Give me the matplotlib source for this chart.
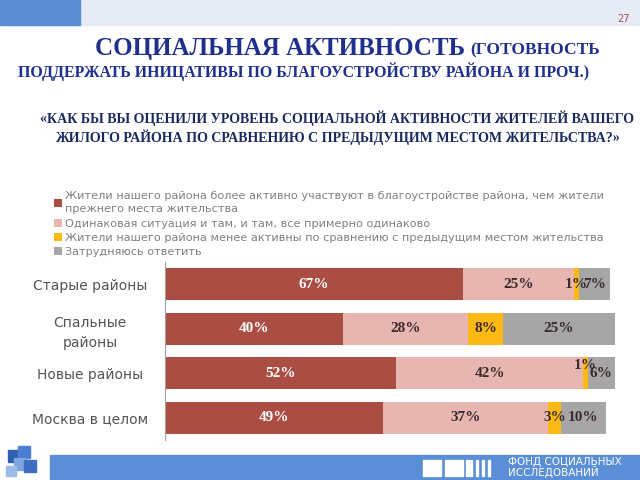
import matplotlib
matplotlib.use("Agg")
import matplotlib.pyplot as plt
from matplotlib.patches import Rectangle
import numpy as np

categories = ["Старые районы", "Спальные\nрайоны", "Новые районы", "Москва в целом"]
series_names = [
    "Жители нашего района более активно участвуют в благоустройстве района, чем жители\nпрежнего места жительства",
    "Одинаковая ситуация и там, и там, все примерно одинаково",
    "Жители нашего района менее активны по сравнению с предыдущим местом жительства",
    "Затрудняюсь ответить",
]
more_active = [67, 40, 52, 49]
same = [25, 28, 42, 37]
less_active = [1, 8, 1, 3]
hard_to_say = [7, 25, 6, 10]

colors = ["#AA4E43", "#E7B6B1", "#FDB913", "#A6A6A6"]
label_colors = ["white", "#3a2a2a", "#3a2a2a", "#3a2a2a"]

W, H = 640, 480
fig = plt.figure(figsize=(6.4, 4.8), dpi=100)

def px(x, y):
    return x / W, 1 - y / H

# header band
fig.patches.append(Rectangle((0, 1 - 25 / H), 1, 25 / H, transform=fig.transFigure,
                             color="#E6EBF6", zorder=0))
fig.patches.append(Rectangle((0, 1 - 25 / H), 80 / W, 25 / H, transform=fig.transFigure,
                             color="#5B8DD4", zorder=1))
fig.text(*px(623, 19), "27", color="#A05048", fontsize=7, ha="center", va="center")

# footer band
fig.patches.append(Rectangle((50 / W, 0), 1 - 50 / W, 25 / H, transform=fig.transFigure,
                             color="#5A8ED6", zorder=0))
for (x0, y0, s, c) in [(8, 450, 12, "#2F5FB0"), (18, 446, 12, "#4A7ED0"),
                       (14, 458, 12, "#7FA6E0"), (24, 460, 12, "#3E6CC0"),
                       (6, 466, 10, "#9DBBE8")]:
    fig.patches.append(Rectangle((x0 / W, 1 - (y0 + s) / H), s / W, s / H,
                                 transform=fig.transFigure, color=c, zorder=1))
for (x0, w) in [(423, 18), (445, 18), (466, 6), (476, 2), (482, 2), (488, 2)]:
    fig.patches.append(Rectangle((x0 / W, 1 - 476 / H), w / W, 16 / H,
                                 transform=fig.transFigure, color="white", zorder=1))
fig.text(*px(508, 462), "ФОНД СОЦИАЛЬНЫХ", color="white", fontsize=7.5,
         ha="left", va="center", family="DejaVu Sans")
fig.text(*px(508, 472), "ИССЛЕДОВАНИЙ", color="white", fontsize=7.5,
         ha="left", va="center", family="DejaVu Sans")

# titles
navy = "#1F2F8C"
fig.text(*px(95, 48), "СОЦИАЛЬНАЯ АКТИВНОСТЬ", color=navy, fontsize=18,
         fontweight="bold", family="Liberation Serif", ha="left", va="center")
fig.text(*px(470, 50), "(ГОТОВНОСТЬ", color=navy, fontsize=12.5,
         fontweight="bold", family="Liberation Serif", ha="left", va="center")
fig.text(*px(304, 72), "ПОДДЕРЖАТЬ ИНИЦАТИВЫ ПО БЛАГОУСТРОЙСТВУ РАЙОНА И ПРОЧ.)",
         color=navy, fontsize=11.4, fontweight="bold", family="Liberation Serif",
         ha="center", va="center")
sub = "#1A2A5E"
fig.text(*px(337, 118), "«КАК БЫ ВЫ ОЦЕНИЛИ УРОВЕНЬ СОЦИАЛЬНОЙ АКТИВНОСТИ ЖИТЕЛЕЙ ВАШЕГО",
         color=sub, fontsize=10.1, fontweight="bold", family="Liberation Serif",
         ha="center", va="center")
fig.text(*px(337, 137), "ЖИЛОГО РАЙОНА ПО СРАВНЕНИЮ С ПРЕДЫДУЩИМ МЕСТОМ ЖИТЕЛЬСТВА?»",
         color=sub, fontsize=10.1, fontweight="bold", family="Liberation Serif",
         ha="center", va="center")

# axes
ax = fig.add_axes([165 / W, 1 - 440 / H, 450 / W, 178 / H])
data = np.array([more_active, same, less_active, hard_to_say], dtype=float)
y = np.arange(len(categories))
left = np.zeros(len(categories))
for i in range(4):
    bars = ax.barh(y, data[i], left=left, height=0.72, color=colors[i],
                   label=series_names[i], edgecolor="none")
    for j, b in enumerate(bars):
        cx = b.get_x() + b.get_width() / 2
        dy = -0.17 if (i == 2 and j == 2) else 0
        ax.text(cx, y[j] + dy, f"{int(data[i][j])}%", ha="center", va="center",
                color=label_colors[i], fontsize=11, fontweight="bold",
                family="Liberation Serif")
    left += data[i]

ax.set_xlim(0, 101.1)
ax.set_ylim(len(categories) - 0.5, -0.5)
ax.set_yticks(y)
ax.set_yticklabels(categories, fontsize=10, color="#555555", family="DejaVu Sans")
for t in ax.get_yticklabels():
    t.set_ha("center")
    t.set_multialignment("center")
    t.set_linespacing(1.5)
ax.tick_params(axis="y", length=0, pad=54)
ax.set_xticks([])
for s in ["top", "right", "bottom"]:
    ax.spines[s].set_visible(False)
ax.spines["left"].set_color("#A0A0A0")

handles, labels = ax.get_legend_handles_labels()
leg = fig.legend(handles, labels, loc="upper left", bbox_to_anchor=px(46, 183),
                 frameon=False, fontsize=8.1, handlelength=0.7, handleheight=0.7,
                 handletextpad=0.3, labelspacing=0.38, labelcolor="#808080",
                 borderpad=0.2)
leg.get_texts()[0].set_linespacing(1.45)

fig.savefig("out.png", dpi=100)
